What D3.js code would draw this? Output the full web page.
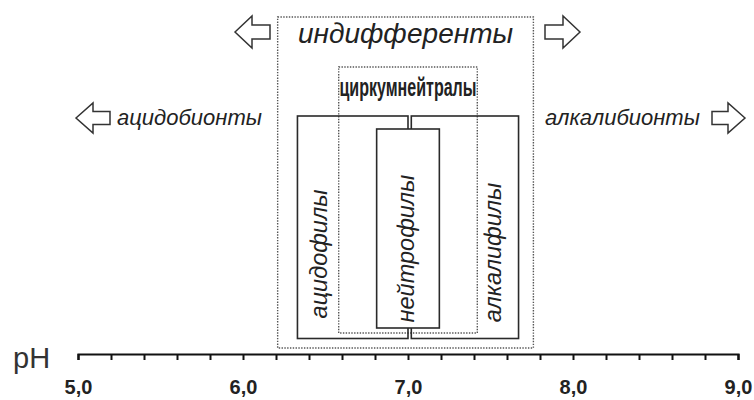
<!DOCTYPE html>
<html><head><meta charset="utf-8">
<script src="https://cdn.jsdelivr.net/npm/d3@7"></script>
<style>
html,body{margin:0;padding:0;background:#fff;}
svg{display:block;}
text{font-family:"Liberation Sans",Arial,sans-serif;}
</style></head>
<body>
<svg id="chart" width="754" height="400"></svg>
<script>
// ---- data ----
const groups      = ["индифференты","циркумнейтралы","ацидофилы","нейтрофилы","алкалифилы"];
const phFrom      = [6.21, 6.58, 6.33, 6.81, 7.02];
const phTo        = [7.76, 7.42, 7.00, 7.19, 7.67];
const groupStyle  = ["dotted","dotted","solid","solid","solid"];
const sideLabels  = ["ацидобионты","алкалибионты"];
const tickValues  = d3.range(0, 21).map(i => 5 + i * 0.2);
const tickLabels  = ["5,0","6,0","7,0","8,0","9,0"];
const axisTitle   = "pH";

// ---- layout ----
const svg = d3.select("#chart");
const axisY = 354;
const x = d3.scaleLinear().domain([5, 9]).range([78, 738]);
const boxY = { // vertical extents (layout only)
  "индифференты":[17,348], "циркумнейтралы":[67,333],
  "ацидофилы":[116,338.5], "нейтрофилы":[129,328], "алкалифилы":[116,338.5]
};
const drawOrder = ["индифференты","циркумнейтралы","ацидофилы","алкалифилы","нейтрофилы"];

drawOrder.forEach(g => {
  const i = groups.indexOf(g);
  const [y0,y1] = boxY[g];
  const r = svg.append("rect")
    .attr("x", x(phFrom[i])).attr("y", y0)
    .attr("width", x(phTo[i]) - x(phFrom[i])).attr("height", y1 - y0);
  if (groupStyle[i] === "dotted") {
    r.attr("fill", "none").attr("stroke", "#555").attr("stroke-width", 1.4)
     .attr("stroke-dasharray", "1.4,1.4");
  } else {
    r.attr("fill", g === "нейтрофилы" ? "#fff" : "none")
     .attr("stroke", "#2a2a2a").attr("stroke-width", 1.6);
  }
});

// box labels
svg.append("text")
  .attr("x", (x(phFrom[0]) + x(phTo[0])) / 2).attr("y", 43)
  .attr("text-anchor", "middle").attr("font-size", 28).attr("font-style", "italic")
  .attr("fill", "#222").text(groups[0]);
svg.append("text")
  .attr("x", (x(phFrom[1]) + x(phTo[1])) / 2).attr("y", 96)
  .attr("text-anchor", "middle").attr("font-size", 26).attr("font-weight", "bold")
  .attr("textLength", 137).attr("lengthAdjust", "spacingAndGlyphs")
  .attr("fill", "#222").text(groups[1]);
const vert = [["ацидофилы",327,254],["нейтрофилы",414,248.5],["алкалифилы",501,252.5]];
vert.forEach(([n,bx,cy]) => {
  svg.append("text")
    .attr("transform", `translate(${bx},${cy}) rotate(-90)`)
    .attr("text-anchor", "middle").attr("font-size", 23.5).attr("font-style", "italic")
    .attr("fill", "#222").text(n);
});

// side labels
svg.append("text").attr("x", 117).attr("y", 125)
  .attr("font-size", 22).attr("font-style", "italic").attr("fill", "#222").text(sideLabels[0]);
svg.append("text").attr("x", 545).attr("y", 125)
  .attr("font-size", 22).attr("font-style", "italic").attr("fill", "#222").text(sideLabels[1]);

// hollow block arrows
function arrow(tipX, cy, dir, len, headLen, headH, shaftH) {
  const s = dir;
  const bx = tipX - s * headLen, ex = tipX - s * len;
  const pts = [[tipX,cy],[bx,cy-headH],[bx,cy-shaftH],[ex,cy-shaftH],[ex,cy+shaftH],[bx,cy+shaftH],[bx,cy+headH]];
  svg.append("path").attr("d", d3.line()(pts) + "Z")
    .attr("fill", "#fff").attr("stroke", "#333").attr("stroke-width", 1.5)
    .attr("stroke-linejoin", "miter");
}
arrow(235, 32, -1, 35, 17, 16, 7);
arrow(580, 32, 1, 35, 17, 16, 7);
arrow(76, 118, -1, 34, 17, 15, 6.5);
arrow(745, 118, 1, 33, 17, 15, 6.5);

// axis
const axis = d3.axisBottom(x)
  .tickValues(tickValues)
  .tickSize(6)
  .tickPadding(20)
  .tickFormat(d => {
    const r = Math.round(d * 10) / 10;
    return Number.isInteger(r) ? tickLabels[r - 5] : "";
  });
const ag = svg.append("g").attr("transform", `translate(0,${axisY})`).call(axis);
ag.select(".domain").attr("stroke", "#111").attr("stroke-width", 2.2);
ag.selectAll(".tick line").attr("stroke", "#111").attr("stroke-width", 2);
ag.selectAll(".tick text")
  .attr("font-family", "'Liberation Sans',Arial,sans-serif")
  .attr("font-size", 20).attr("font-weight", "bold").attr("fill", "#222");

svg.append("text").attr("x", 13).attr("y", 368)
  .attr("font-size", 29).attr("fill", "#333").text(axisTitle);
</script>
</body></html>
